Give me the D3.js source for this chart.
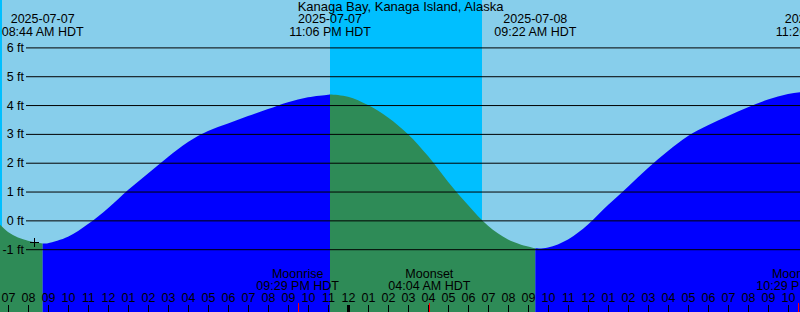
<!DOCTYPE html>
<html lang="en">

<head>
    <meta charset="UTF-8">
    <title>Kanaga Bay tides</title>
    <script src="https://cdn.jsdelivr.net/npm/d3@7"></script>
    <style>
        body { margin: 0; background: #fff; }
        svg { display: block; font-family: "Liberation Sans", Arial, sans-serif; }
    </style>
</head>

<body>
    <svg id="chart" width="800" height="312"></svg>
    <script>
        // times are hours since 2025-07-07 00:00 HDT
        const sampleHours  = [6, 7, 8, 9, 10, 11, 12, 13, 14, 15, 16, 17, 18, 19, 20, 21, 22, 23,
                              24, 25, 26, 27, 28, 29, 30, 31, 32, 33, 34, 35, 36, 37, 38, 39, 40,
                              41, 42, 43, 44, 45, 46, 47];
        const sampleLevels = [0.30, -0.40, -0.71, -0.79, -0.57, -0.13, 0.42, 1.05, 1.63, 2.20, 2.72,
                              3.10, 3.36, 3.62, 3.86, 4.10, 4.27, 4.36,
                              4.29, 4.00, 3.57, 2.99, 2.23, 1.34, 0.53, -0.19, -0.66, -0.91, -0.94,
                              -0.66, -0.14, 0.53, 1.17, 1.82, 2.41, 2.93, 3.30, 3.62, 3.92, 4.19,
                              4.38, 4.48];

        const extremeHours  = [8.733, 23.1, 33.367, 47.433];
        const extremeLevels = [-0.80, 4.37, -0.97, 4.50];
        const extremeDates  = ["2025-07-07", "2025-07-07", "2025-07-08", "2025-07-08"];
        const extremeTimes  = ["08:44 AM HDT", "11:06 PM HDT", "09:22 AM HDT", "11:26 PM HDT"];

        const nightStarts = [0, 23.1];
        const nightEnds   = [6.7, 30.7];

        const moonHours  = [21.483, 28.067, 46.483];
        const moonNames  = ["Moonrise", "Moonset", "Moonrise"];
        const moonTimes  = ["09:29 PM HDT", "04:04 AM HDT", "10:29 PM HDT"];

        const markHour = 8.317, markLevel = -0.76;

        const levelTicks = [-1, 0, 1, 2, 3, 4, 5, 6];
        const hourTicks = [7, 8, 9, 10, 11, 12, 13, 14, 15, 16, 17, 18, 19, 20, 21, 22, 23, 24,
                           25, 26, 27, 28, 29, 30, 31, 32, 33, 34, 35, 36, 37, 38, 39, 40, 41,
                           42, 43, 44, 45, 46];

        const W = 800, H = 312;
        const svg = d3.select("#chart");

        const x = d3.scaleLinear().domain([6.6, 46.6]).range([0, W]);
        const y = d3.scaleLinear().domain([-1, 6]).range([249.2, 47.4]);

        // sky
        svg.append("rect").attr("width", W).attr("height", H).attr("fill", "#87ceeb");
        svg.selectAll("rect.night")
            .data(nightStarts)
            .enter().append("rect")
            .attr("class", "night")
            .attr("x", (d, i) => x(d))
            .attr("width", (d, i) => x(nightEnds[i]) - x(d))
            .attr("y", 0).attr("height", H)
            .attr("fill", "#00bfff");

        // water: rising = blue, falling = sea green
        const pts = sampleHours.map((h, i) => [h, sampleLevels[i]])
            .concat(extremeHours.map((h, i) => [h, extremeLevels[i]]))
            .sort((a, b) => a[0] - b[0]);

        const area = d3.area()
            .x(d => x(d[0]))
            .y0(H)
            .y1(d => y(d[1]))
            .curve(d3.curveCatmullRom.alpha(0.5));

        const bounds = [5].concat(extremeHours);
        const defs = svg.append("defs");
        bounds.forEach((b, i) => {
            const e = i < bounds.length - 1 ? bounds[i + 1] : 48;
            defs.append("clipPath").attr("id", "seg" + i)
                .append("rect")
                .attr("x", x(b)).attr("width", x(e) - x(b))
                .attr("y", 0).attr("height", H);
            // the first segment is a falling tide, then they alternate
            svg.append("path")
                .datum(pts)
                .attr("d", area)
                .attr("clip-path", "url(#seg" + i + ")")
                .attr("fill", i % 2 === 0 ? "#2e8b57" : "#0000ff");
        });

        // level grid
        const yAxis = d3.axisLeft(y)
            .tickValues(levelTicks)
            .tickSize(W - 26)
            .tickPadding(2)
            .tickFormat(d => d + " ft");
        const gy = svg.append("g").attr("transform", `translate(${W},0)`).call(yAxis);
        gy.select(".domain").remove();
        gy.selectAll("line").attr("stroke", "#000");
        gy.selectAll("text").attr("fill", "#000")
            .style("font-size", "12.5px").style("font-family", "Liberation Sans, Arial, sans-serif");

        // hour axis along the bottom
        const xAxis = d3.axisTop(x)
            .tickValues(hourTicks)
            .tickSize(7)
            .tickPadding(3.5)
            .tickFormat(h => d3.format("02")(h % 12 === 0 ? 12 : h % 12));
        const gx = svg.append("g").attr("transform", `translate(0,${H})`).call(xAxis);
        gx.select(".domain").remove();
        gx.selectAll("line").attr("stroke", "#000")
            .attr("stroke-width", d => d % 24 === 0 ? 3 : 1);
        gx.selectAll("text").attr("fill", "#000")
            .style("font-size", "12.5px").style("font-family", "Liberation Sans, Arial, sans-serif");

        // moon events
        svg.selectAll("line.moon")
            .data(moonHours)
            .enter().append("line")
            .attr("class", "moon")
            .attr("x1", d => Math.round(x(d)) + 0.5).attr("x2", d => Math.round(x(d)) + 0.5)
            .attr("y1", 303).attr("y2", H)
            .attr("stroke", "#ff0000");

        const moonLbl = svg.selectAll("g.moonlbl")
            .data(moonHours)
            .enter().append("g")
            .attr("class", "moonlbl")
            .attr("transform", d => `translate(${x(d)},0)`)
            .attr("text-anchor", "middle")
            .style("font-size", "12.5px");
        moonLbl.append("text").attr("y", 278.3).text((d, i) => moonNames[i]);
        moonLbl.append("text").attr("y", 290.3).text((d, i) => moonTimes[i]);

        // extremes along the top
        const extLbl = svg.selectAll("g.ext")
            .data(extremeHours)
            .enter().append("g")
            .attr("class", "ext")
            .attr("transform", d => `translate(${x(d)},0)`)
            .attr("text-anchor", "middle")
            .style("font-size", "12.5px");
        extLbl.append("text").attr("y", 22.8).text((d, i) => extremeDates[i]);
        extLbl.append("text").attr("y", 35.8).text((d, i) => extremeTimes[i]);

        // title
        svg.append("text")
            .attr("x", 400.5).attr("y", 11)
            .attr("text-anchor", "middle")
            .style("font-size", "13px")
            .text("Kanaga Bay, Kanaga Island, Alaska");

        // mark
        const mx = Math.round(x(markHour)) + 0.5, my = Math.round(y(markLevel)) + 0.5;
        svg.append("path")
            .attr("d", `M${mx - 4.5},${my}H${mx + 4.5}M${mx},${my - 4.5}V${my + 4.5}`)
            .attr("stroke", "#000")
            .attr("fill", "none");
    </script>
</body>

</html>
